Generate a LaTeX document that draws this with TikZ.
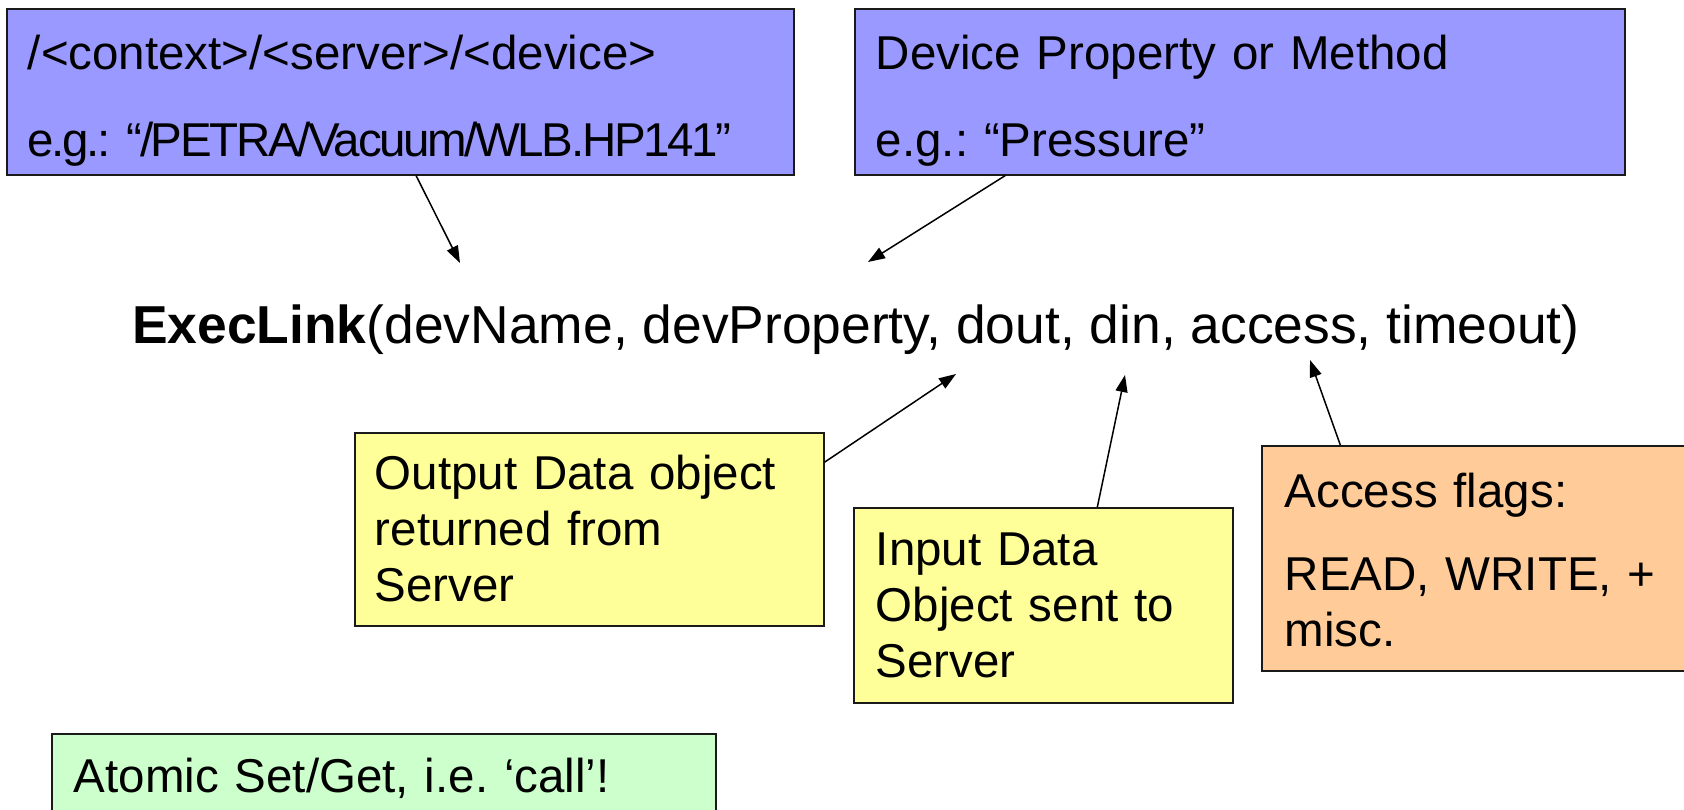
\documentclass[tikz,border=0pt]{standalone}
\usepackage{fontspec}
\setmainfont{Liberation Sans}
\usetikzlibrary{arrows.meta,calc}
\frenchspacing
\hyphenpenalty=10000
\exhyphenpenalty=10000

\definecolor{boxblue}{HTML}{9999FF}
\definecolor{boxyellow}{HTML}{FFFF99}
\definecolor{boxorange}{HTML}{FFCC99}
\definecolor{boxgreen}{HTML}{CCFFCC}
\definecolor{edge}{HTML}{1A1A1A}

\tikzset{
  note/.style={draw=edge, line width=1.6pt, anchor=north west, inner ysep=0pt,
    align=left, font=\fontsize{47.5}{56}\selectfont},
  arr/.style={-{Triangle[length=17pt,width=12pt]}, line width=1.5pt, draw=black},
}

\begin{document}
\begin{tikzpicture}[x=1pt,y=-1pt]
\useasboundingbox (0,0) rectangle (1684,810);
\clip (0,0) rectangle (1684,810);

% device name and property
\node[note, fill=boxblue, inner xsep=21pt, text width=745pt,
      text height=60.3pt, text depth=105.7pt] (devname) at (6,8)
  {/<context>/<server>/<device>\\[31.7pt]{\addfontfeatures{LetterSpace=-5}e.g.:~“/PETRA/Vacuum/WLB.HP141”}};
\node[note, fill=boxblue, inner xsep=21pt, text width=728pt,
      text height=60.3pt, text depth=105.7pt] (devprop) at (854,8)
  {Device Property or Method\\[31.7pt]e.g.:~“Pressure”};

% the call itself
\node[anchor=base west, inner sep=0pt, font=\fontsize{53.4}{60}\selectfont] (call) at (132,344)
  {\textbf{ExecLink}(devName, devProperty, dout, din, access, timeout)};

% data objects and flags
\node[note, fill=boxyellow, inner xsep=20pt, text width=429pt,
      text height=57pt, text depth=136pt] (dout) at (354,432)
  {Output Data object\\returned from\\Server};
\node[note, fill=boxyellow, inner xsep=22pt, text width=335pt,
      text height=58pt, text depth=137pt] (din) at (853,507)
  {Input Data\\Object sent to\\Server};
\node[note, fill=boxorange, inner xsep=23pt, text width=393pt,
      text height=62pt, text depth=163pt] (flags) at (1261,445)
  {Access flags:\\[27pt]READ, WRITE, +\\misc.};
\node[note, fill=boxgreen, inner xsep=22pt, text width=620pt,
      text height=58.7pt, text depth=60pt] (atomic) at (51,733.3)
  {Atomic Set/Get, i.e.~‘call’!};

% arrow tips at the argument list
\coordinate (tipname) at (460,263);
\coordinate (tipprop) at (868,262);
\coordinate (tipdout) at (956,374);
\coordinate (tipdin) at (1125,375);
\coordinate (tipacc) at (1310,360);

\draw[arr] ($(devname.south west)!0.520!(devname.south east)$) -- (tipname);
\draw[arr] ($(devprop.south west)!0.196!(devprop.south east)$) -- (tipprop);
\draw[arr] ($(dout.north east)!0.155!(dout.south east)$) -- (tipdout);
\draw[arr] ($(din.north west)!0.642!(din.north east)$) -- (tipdin);
\draw[arr] ($(flags.north west)!0.18!(flags.north east)$) -- (tipacc);
\end{tikzpicture}
\end{document}
